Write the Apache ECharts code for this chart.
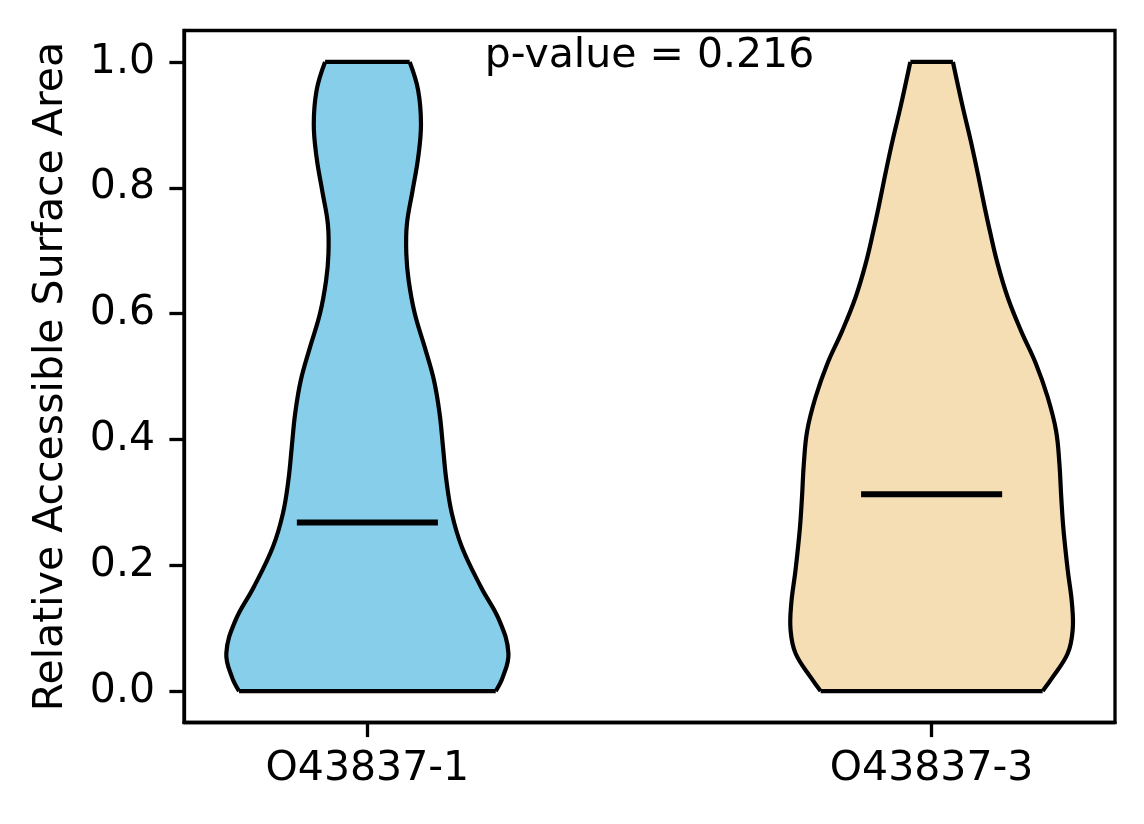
<!DOCTYPE html>
<html>
<head>
<meta charset="utf-8">
<script src="https://cdn.jsdelivr.net/npm/echarts@6/dist/echarts.min.js"></script>
<style>
  html, body { margin: 0; padding: 0; background: #fff; }
  #chart { width: 1144px; height: 824px; }
</style>
</head>
<body>
<div id="chart"></div>
<script>
// 组名与位置
const groups = ['O43837-1', 'O43837-3'];
const positions = [1, 2];
const colors = ['#87CEEB', '#F5DEB3'];

// 小提琴轮廓：y 值与相对半宽（最宽处 = 1）
const violin1Y = [0.0, 0.022, 0.06, 0.112, 0.165, 0.229, 0.282, 0.335, 0.388, 0.441, 0.494, 0.547, 0.6, 0.652, 0.695, 0.742, 0.795, 0.848, 0.901, 0.955, 1.0];
const violin1W = [0.91, 0.96, 1.0, 0.936, 0.806, 0.67, 0.599, 0.56, 0.536, 0.512, 0.472, 0.406, 0.336, 0.293, 0.276, 0.28, 0.32, 0.36, 0.38, 0.36, 0.30];
const violin2Y = [0.0, 0.022, 0.06, 0.097, 0.139, 0.192, 0.256, 0.308, 0.361, 0.414, 0.467, 0.52, 0.573, 0.626, 0.679, 0.732, 0.769, 0.822, 0.875, 0.929, 1.0];
const violin2W = [0.787, 0.858, 0.965, 1.0, 0.995, 0.965, 0.935, 0.919, 0.906, 0.882, 0.823, 0.74, 0.633, 0.539, 0.468, 0.412, 0.376, 0.328, 0.277, 0.22, 0.151];

// 中位数
const medians = [0.268, 0.313];

// y 轴刻度
const yTicks = [0, 0.2, 0.4, 0.6, 0.8, 1.0];

// 注释
const pValueText = 'p-value = 0.216';
const pValuePos = [1.5, 1.009];

const profiles = [
    { y: violin1Y, w: violin1W },
    { y: violin2Y, w: violin2W }
];

const HALF_WIDTH = 0.25;   // widths=0.5
const MEDIAN_HALF = 0.125;
const FONT = 'DejaVu Sans';

function renderViolin(params, api) {
    const i = api.value(1);
    const pos = api.value(0);
    const prof = profiles[i];
    const left = [], right = [];
    for (let k = 0; k < prof.y.length; k++) {
        left.push(api.coord([pos - prof.w[k] * HALF_WIDTH, prof.y[k]]));
        right.push(api.coord([pos + prof.w[k] * HALF_WIDTH, prof.y[k]]));
    }
    const outline = left.concat(right.slice().reverse());
    const m0 = api.coord([pos - MEDIAN_HALF, medians[i]]);
    const m1 = api.coord([pos + MEDIAN_HALF, medians[i]]);
    const lineStyle = { stroke: '#000', lineWidth: 4.2, fill: null, lineJoin: 'round' };
    const n = left.length - 1;
    return {
        type: 'group',
        children: [
            { type: 'polygon', shape: { points: outline }, style: { fill: colors[i], stroke: null } },
            { type: 'polyline', shape: { points: left, smooth: 0.4 }, style: lineStyle },
            { type: 'polyline', shape: { points: right, smooth: 0.4 }, style: lineStyle },
            { type: 'line', shape: { x1: left[0][0], y1: left[0][1], x2: right[0][0], y2: right[0][1] }, style: lineStyle },
            { type: 'line', shape: { x1: left[n][0], y1: left[n][1], x2: right[n][0], y2: right[n][1] }, style: lineStyle },
            { type: 'line', shape: { x1: m0[0], y1: m0[1], x2: m1[0], y2: m1[1] }, style: { stroke: '#000', lineWidth: 6 } }
        ]
    };
}

function renderNote(params, api) {
    const p = api.coord([api.value(0), api.value(1)]);
    return {
        type: 'text',
        x: p[0], y: p[1],
        style: {
            text: pValueText,
            fill: '#000',
            font: '41px "DejaVu Sans"',
            align: 'center',
            verticalAlign: 'middle'
        }
    };
}

const chart = echarts.init(document.getElementById('chart'));
chart.setOption({
    backgroundColor: '#fff',
    animation: false,
    textStyle: { fontFamily: FONT },
    grid: {
        left: 184, top: 30.5, right: 29, bottom: 101.5,
        show: true, borderColor: '#000', borderWidth: 3.3
    },
    xAxis: {
        type: 'value',
        min: 0.675, max: 2.325,
        splitLine: { show: false },
        axisLine: { onZero: false, lineStyle: { color: '#000', width: 3.3 } },
        axisTick: { customValues: positions, length: 14.6, lineStyle: { color: '#000', width: 3.3 } },
        axisLabel: {
            customValues: positions,
            formatter: v => groups[positions.indexOf(v)],
            color: '#000', fontSize: 41, fontFamily: FONT, margin: 26
        }
    },
    yAxis: {
        type: 'value',
        min: -0.05, max: 1.05,
        name: 'Relative Accessible Surface Area',
        nameLocation: 'middle',
        nameRotate: 90,
        nameGap: 112,
        nameTextStyle: { color: '#000', fontSize: 41, fontFamily: FONT },
        splitLine: { show: false },
        axisLine: { onZero: false, lineStyle: { color: '#000', width: 3.3 } },
        axisTick: { customValues: yTicks, length: 14.6, lineStyle: { color: '#000', width: 3.3 } },
        axisLabel: {
            customValues: yTicks,
            formatter: v => v.toFixed(1),
            color: '#000', fontSize: 41, fontFamily: FONT, margin: 29
        }
    },
    series: [
        {
            type: 'custom',
            renderItem: renderViolin,
            clip: false,
            encode: { x: 0, y: 2 },
            data: positions.map((p, i) => [p, i, medians[i]])
        },
        {
            type: 'custom',
            renderItem: renderNote,
            clip: false,
            encode: { x: 0, y: 1 },
            data: [pValuePos]
        }
    ]
});
</script>
</body>
</html>
